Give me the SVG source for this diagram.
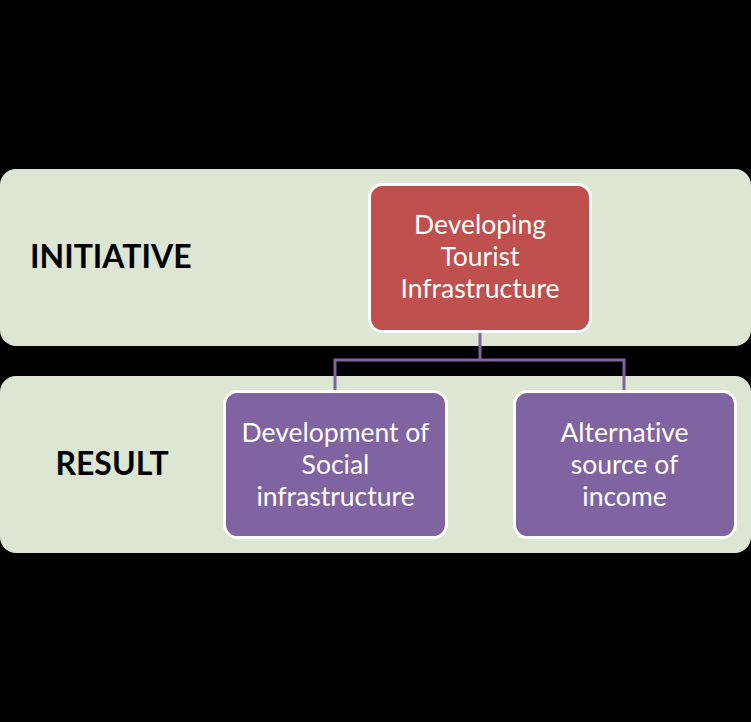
<svg xmlns="http://www.w3.org/2000/svg" width="751" height="722" viewBox="0 0 751 722">
<style>
.band{fill:#DCE6D2}
.node{stroke:#FFFFFF;stroke-width:3}
.red{fill:#C0504D}
.purple{fill:#8064A2}
.t{font-family:Lato,"Open Sans","Liberation Sans",sans-serif;font-size:26.5px;fill:#FFFFFF;text-anchor:middle;font-variant-ligatures:none}
.lbl{font-family:Lato,"Open Sans","Liberation Sans",sans-serif;font-size:32px;font-weight:bold;fill:#000000;font-variant-ligatures:none}
.conn{fill:none;stroke:#8064A2;stroke-width:3}
</style>
<rect x="0" y="0" width="751" height="722" fill="#000000"/>
<g id="band-initiative">
<rect class="band" x="0" y="169" width="751" height="177" rx="16"/>
<text class="lbl" x="30" y="268">INITIATIVE</text>
</g>
<g id="band-result">
<rect class="band" x="0" y="376" width="751" height="177" rx="16"/>
<text class="lbl" x="112" y="475" text-anchor="middle">RESULT</text>
</g>
<g id="connectors">
<path class="conn" d="M480 332 V360 M335 360 H624 M335 358.5 V391 M624 358.5 V391"/>
</g>
<g id="node-developing">
<rect class="node red" x="369.5" y="184.5" width="221" height="147" rx="13"/>
<text class="t"><tspan x="480" y="234">Developing</tspan><tspan x="480" y="266">Tourist</tspan><tspan x="480" y="298">Infrastructure</tspan></text>
</g>
<g id="node-social">
<rect class="node purple" x="224.5" y="391.5" width="222" height="146" rx="13"/>
<text class="t"><tspan x="335.5" y="442">Development of</tspan><tspan x="335.5" y="474">Social</tspan><tspan x="335.5" y="506">infrastructure</tspan></text>
</g>
<g id="node-income">
<rect class="node purple" x="514.5" y="391.5" width="221" height="146" rx="13"/>
<text class="t"><tspan x="624.5" y="442">Alternative</tspan><tspan x="624.5" y="474">source of</tspan><tspan x="624.5" y="506">income</tspan></text>
</g>
</svg>
